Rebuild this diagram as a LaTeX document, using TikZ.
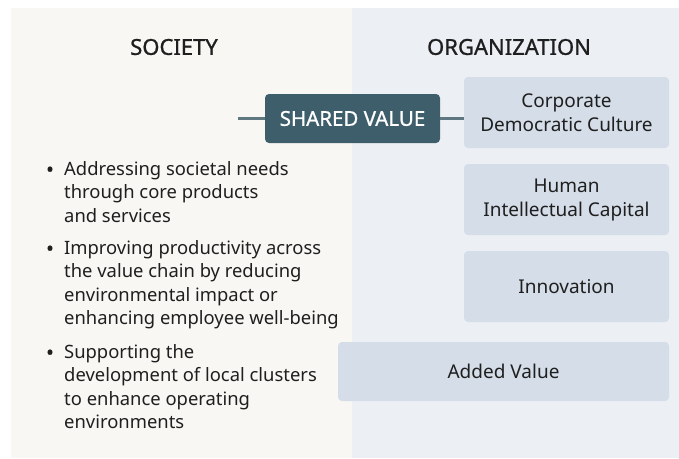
\documentclass[tikz,border=0pt]{standalone}
\usepackage{fontspec}
\setmainfont{Noto Sans}
\definecolor{societybg}{HTML}{F8F7F4}
\definecolor{orgbg}{HTML}{ECF0F5}
\definecolor{boxfill}{HTML}{D4DDE8}
\definecolor{sharedfill}{HTML}{3D5E6A}
\definecolor{linkcol}{HTML}{5E7780}
\definecolor{ink}{HTML}{1F1F1F}
\begin{document}
\begin{tikzpicture}[x=1pt,y=-1pt,
  header/.style={inner sep=0pt,text=ink,
    font=\fontsize{22}{24}\selectfont\addfontfeatures{FakeBold=1}},
  orgbox/.style={draw=none,fill=boxfill,rounded corners=4pt,inner sep=0pt,
    align=center,text=ink,font=\fontsize{19}{24}\selectfont},
  sharedbox/.style={fill=sharedfill,rounded corners=4pt,inner sep=0pt,
    text=white,font=\fontsize{20.5}{24}\selectfont\addfontfeatures{FakeBold=1},
    minimum width=175pt,minimum height=49pt},
  link/.style={draw=linkcol,line width=2.5pt},
  bulletitem/.style={inner sep=0pt,anchor=base west,text=ink,
    font=\fontsize{18.4}{23.5}\selectfont},
  bulletdot/.style={inner sep=0pt,anchor=base,text=ink,
    font=\fontsize{20}{24}\selectfont\addfontfeatures{FakeBold=1.5}}]
  \useasboundingbox (0,0) rectangle (679,458);
  \fill[white] (0,0) rectangle (679,458);
  % two background panels
  \fill[societybg] (11,8) rectangle (352,458);
  \fill[orgbg] (352,8) rectangle (679,458);

  % column headings
  \node[header] (society) at (174,47) {SOCIETY};
  \node[header] (organization) at (509,47) {ORGANIZATION};

  % organization side boxes
  \node[orgbox,minimum width=205pt,minimum height=71pt] (corp) at (566.5,112.5)
    {Corporate\\Democratic Culture};
  \node[orgbox,minimum width=205pt,minimum height=71pt] (human) at (566.5,199.5)
    {Human\\Intellectual Capital};
  \node[orgbox,minimum width=205pt,minimum height=71pt] (innov) at (566.5,286.5)
    {Innovation};
  \node[orgbox,minimum width=331pt,minimum height=59pt] (added) at (503.5,371.5)
    {Added Value};

  % shared value hub and its links
  \node[sharedbox] (shared) at (352.5,118.5) {SHARED VALUE};
  \coordinate (leftend) at (238,118.5);
  \draw[link] (leftend) -- (shared.west);
  \draw[link] (shared.east) -- (shared.east -| corp.west);

  % society bullet list
  \node[bulletdot] (dot1) at (50,176.5) {•};
  \node[bulletitem] (item1) at (64,175)
    {\parbox[t]{290pt}{\raggedright
      Addressing societal needs\\through core products\\and services}};
  \node[bulletdot] (dot2) at (50,255.5) {•};
  \node[bulletitem] (item2) at (64,254)
    {\parbox[t]{290pt}{\raggedright
      Improving productivity across\\the value chain by reducing\\environmental impact or\\enhancing employee well-being}};
  \node[bulletdot] (dot3) at (50,359.5) {•};
  \node[bulletitem] (item3) at (64,358)
    {\parbox[t]{290pt}{\raggedright
      Supporting the\\development of local clusters\\to enhance operating\\environments}};
\end{tikzpicture}
\end{document}
